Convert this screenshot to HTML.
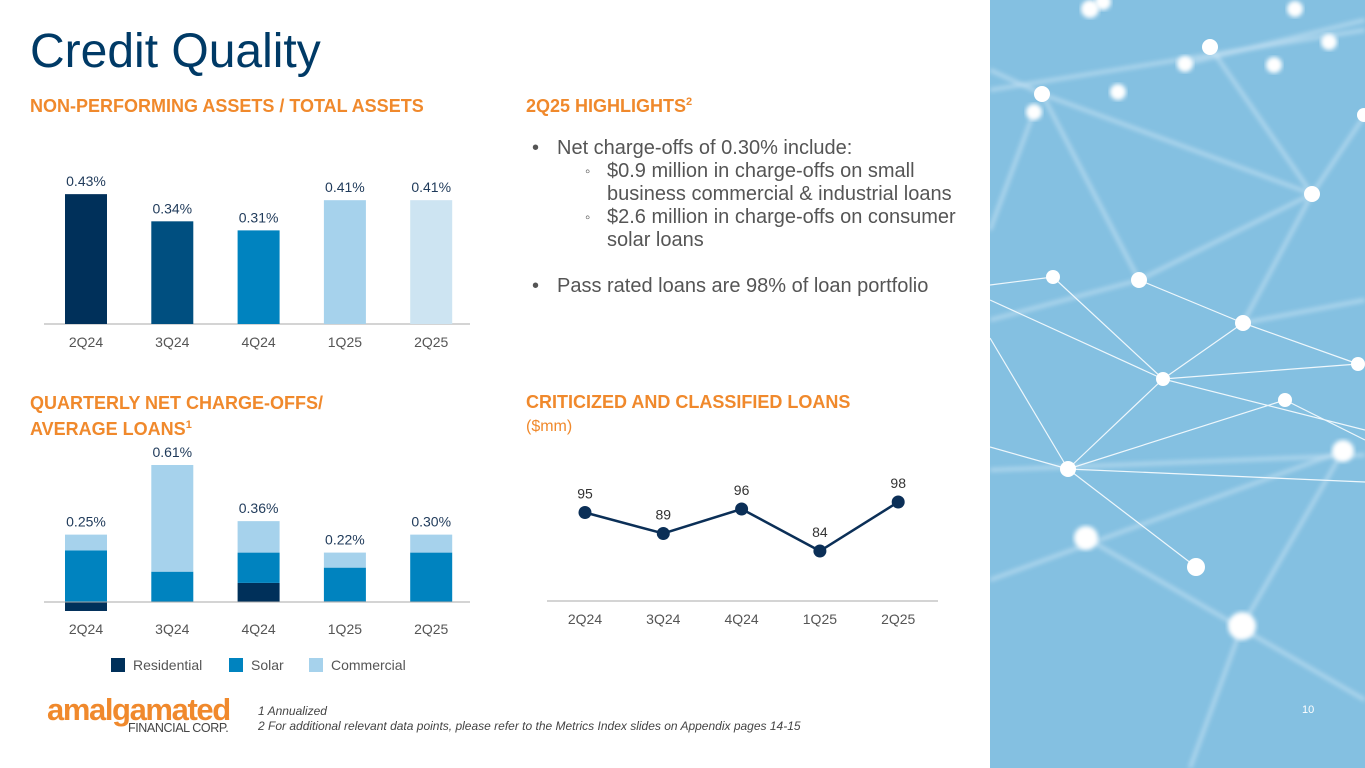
<!DOCTYPE html>
<html><head><meta charset="utf-8"><style>
body{margin:0;width:1365px;height:768px;background:#fff;font-family:"Liberation Sans",Arial,sans-serif;position:relative;overflow:hidden}
.t{position:absolute;white-space:nowrap}
.h{color:#f0892c;font-weight:bold;font-size:18px}
.l{position:absolute;white-space:nowrap;font-size:20px;color:#555;line-height:23px}
</style></head><body>
<div class="t" style="left:30px;top:24px;font-size:48px;color:#003a66">Credit Quality</div>
<div class="t h" style="left:30px;top:96px">NON-PERFORMING ASSETS / TOTAL ASSETS</div>
<div class="t h" style="left:526px;top:96px">2Q25 HIGHLIGHTS<sup style="font-size:11px">2</sup></div>
<div>
<div class="l" style="left:532px;top:137px">•</div><div class="l" style="left:557px;top:137px">Net charge-offs of 0.30% include:</div>
<div class="l" style="left:585px;top:160px;font-size:15px">◦</div><div class="l" style="left:607px;top:160px">$0.9 million in charge-offs on small</div>
<div class="l" style="left:607px;top:183px">business commercial &amp; industrial loans</div>
<div class="l" style="left:585px;top:206px;font-size:15px">◦</div><div class="l" style="left:607px;top:206px">$2.6 million in charge-offs on consumer</div>
<div class="l" style="left:607px;top:229px">solar loans</div>
<div class="l" style="left:532px;top:275px">•</div><div class="l" style="left:557px;top:275px">Pass rated loans are 98% of loan portfolio</div>
</div>
<div class="t h" style="left:30px;top:392px;line-height:22px">QUARTERLY NET CHARGE-OFFS/<br>AVERAGE LOANS<sup style="font-size:11px">1</sup></div>
<div class="t h" style="left:526px;top:392px">CRITICIZED AND CLASSIFIED LOANS</div>
<div class="t" style="left:526px;top:418px;font-size:16px;color:#f0892c">($mm)</div>
<svg id="c" width="990" height="768" style="position:absolute;left:0;top:0" font-family="Liberation Sans, Arial, sans-serif"></svg>
<svg width="375" height="768" style="position:absolute;left:990px;top:0">
<defs><filter id="b"><feGaussianBlur stdDeviation="2"/></filter></defs>
<rect width="375" height="768" fill="#84c0e1"/>
<g stroke="#cfe7f5" stroke-opacity="0.55" stroke-width="4" filter="url(#b)">
<line x1="0" y1="70" x2="52" y2="94"/><line x1="52" y1="94" x2="322" y2="194"/><line x1="322" y1="194" x2="375" y2="115"/><line x1="52" y1="94" x2="149" y2="280"/><line x1="149" y1="280" x2="322" y2="194"/><line x1="322" y1="194" x2="253" y2="323"/><line x1="220" y1="47" x2="322" y2="194"/><line x1="44" y1="112" x2="0" y2="230"/><line x1="253" y1="323" x2="375" y2="300"/><line x1="0" y1="320" x2="149" y2="280"/><line x1="252" y1="626" x2="353" y2="451"/><line x1="252" y1="626" x2="200" y2="768"/><line x1="0" y1="580" x2="353" y2="451"/><line x1="0" y1="470" x2="375" y2="455"/><line x1="96" y1="538" x2="375" y2="700"/><line x1="0" y1="90" x2="375" y2="30"/><line x1="195" y1="64" x2="375" y2="20"/></g>
<g stroke="#eef7fc" stroke-width="1.2">
<line x1="63" y1="277" x2="173" y2="379"/><line x1="173" y1="379" x2="253" y2="323"/><line x1="173" y1="379" x2="78" y2="469"/><line x1="78" y1="469" x2="295" y2="400"/><line x1="78" y1="469" x2="375" y2="482"/><line x1="173" y1="379" x2="368" y2="364"/><line x1="253" y1="323" x2="368" y2="364"/><line x1="0" y1="338" x2="78" y2="469"/><line x1="78" y1="469" x2="206" y2="567"/><line x1="295" y1="400" x2="375" y2="440"/><line x1="173" y1="379" x2="375" y2="430"/><line x1="0" y1="285" x2="63" y2="277"/><line x1="0" y1="447" x2="78" y2="469"/><line x1="0" y1="300" x2="173" y2="379"/><line x1="149" y1="280" x2="253" y2="323"/></g>
<g fill="#fff">
<circle cx="100" cy="9" r="9" filter="url(#b)"/><circle cx="113" cy="2" r="8" filter="url(#b)"/><circle cx="305" cy="9" r="8" filter="url(#b)"/><circle cx="339" cy="42" r="8" filter="url(#b)"/><circle cx="220" cy="47" r="8"/><circle cx="195" cy="64" r="8" filter="url(#b)"/><circle cx="284" cy="65" r="8" filter="url(#b)"/><circle cx="52" cy="94" r="8"/><circle cx="44" cy="112" r="8" filter="url(#b)"/><circle cx="128" cy="92" r="8" filter="url(#b)"/><circle cx="374" cy="115" r="7"/>
<circle cx="322" cy="194" r="8"/><circle cx="63" cy="277" r="7"/><circle cx="149" cy="280" r="8"/><circle cx="253" cy="323" r="8"/><circle cx="368" cy="364" r="7"/><circle cx="173" cy="379" r="7"/><circle cx="295" cy="400" r="7"/><circle cx="353" cy="451" r="11" filter="url(#b)"/><circle cx="78" cy="469" r="8"/><circle cx="96" cy="538" r="12" filter="url(#b)"/><circle cx="206" cy="567" r="9"/><circle cx="252" cy="626" r="14" filter="url(#b)"/>
</g>
<text x="312" y="713" fill="#fff" font-size="11" font-family="Liberation Sans, Arial, sans-serif">10</text>
</svg>
<div class="t" style="left:47px;top:692px;color:#f0892c;font-size:31px;font-weight:bold;letter-spacing:-1.4px">amalgamated</div>
<div class="t" style="left:128px;top:721px;color:#444;font-size:12.5px;letter-spacing:-0.4px">FINANCIAL CORP.</div>
<div class="t" style="left:258px;top:704px;font-size:12px;font-style:italic;color:#444;line-height:15px">1 Annualized<br>2 For additional relevant data points, please refer to the Metrics Index slides on Appendix pages 14-15</div>
<script>
const quarters=["2Q24","3Q24","4Q24","1Q25","2Q25"];
const npaValues=[0.43,0.34,0.31,0.41,0.41];
const npaLabels=["0.43%","0.34%","0.31%","0.41%","0.41%"];
const residential=[-0.04,0,0.085,0.003,0];
const solar=[0.23,0.135,0.135,0.15,0.22];
const commercial=[0.07,0.475,0.14,0.067,0.08];
const ncoLabels=["0.25%","0.61%","0.36%","0.22%","0.30%"];
const criticized=[95,89,96,84,98];
const NS="http://www.w3.org/2000/svg";
const svg=document.getElementById('c');
function el(t,a,txt){const e=document.createElementNS(NS,t);for(const k in a)e.setAttribute(k,a[k]);if(txt!=null)e.textContent=txt;svg.appendChild(e);return e;}
const xs=i=>86+i*86.3;
const FS=14;
// NPA chart
const npaColors=["#00305a","#004f80","#0083bf","#a6d2ec","#cde4f2"];
const yN=v=>324-v*302;
el('line',{x1:44,y1:324,x2:470,y2:324,stroke:"#aaa"});
npaValues.forEach((v,i)=>{
 const r=el('rect',{x:xs(i)-21,y:yN(v),width:42,height:324-yN(v),fill:npaColors[i]});
 
 
 el('text',{x:xs(i),y:yN(v)-8,"text-anchor":"middle","font-size":FS,fill:"#1f3a5a"},npaLabels[i]);
 el('text',{x:xs(i),y:347,"text-anchor":"middle","font-size":FS,fill:"#555"},quarters[i]);
});
// NCO stacked
const yS=v=>602-v*224.6;
const segColors={res:"#00305a",sol:"#0083bf",com:"#a6d2ec"};
quarters.forEach((q,i)=>{
 let pos=0;
 const r0=residential[i];
 if(r0<0){
  const r=el('rect',{x:xs(i)-21,y:602,width:42,height:yS(r0)-602,fill:segColors.res});
  
  
 } else if(r0>0){
  const r=el('rect',{x:xs(i)-21,y:yS(r0),width:42,height:602-yS(r0),fill:segColors.res});
  
  
  pos=r0;
 }
 const s=el('rect',{x:xs(i)-21,y:yS(pos+solar[i]),width:42,height:yS(pos)-yS(pos+solar[i]),fill:segColors.sol});
 
 
 pos+=solar[i];
 const c=el('rect',{x:xs(i)-21,y:yS(pos+commercial[i]),width:42,height:yS(pos)-yS(pos+commercial[i]),fill:segColors.com});
 
 
 pos+=commercial[i];
 el('text',{x:xs(i),y:yS(pos)-8,"text-anchor":"middle","font-size":FS,fill:"#1f3a5a"},ncoLabels[i]);
 el('text',{x:xs(i),y:634,"text-anchor":"middle","font-size":FS,fill:"#555"},q);
});
el('line',{x1:44,y1:602,x2:470,y2:602,stroke:"#aaa"});
// legend
const legend=[["Residential",segColors.res,111],["Solar",segColors.sol,229],["Commercial",segColors.com,309]];
legend.forEach(([n,col,x])=>{
 const g=el('rect',{x:x,y:658,width:14,height:14,fill:col});
 
 
 el('text',{x:x+22,y:670,"font-size":FS,fill:"#555"},n);
});
// line chart
const xl=i=>585+i*78.3;
const yL=v=>551-(v-84)*3.5;
el('line',{x1:547,y1:601,x2:938,y2:601,stroke:"#aaa"});
const pts=criticized.map((v,i)=>xl(i)+","+yL(v)).join(" ");
const pl=el('polyline',{points:pts,fill:"none",stroke:"#0b2f57","stroke-width":2.5});


criticized.forEach((v,i)=>{
 const c=el('circle',{cx:xl(i),cy:yL(v),r:6.5,fill:"#0b2f57"});
 
 
 el('text',{x:xl(i),y:yL(v)-14,"text-anchor":"middle","font-size":FS,fill:"#333"},String(v));
 el('text',{x:xl(i),y:624,"text-anchor":"middle","font-size":FS,fill:"#555"},quarters[i]);
});
</script>
</body></html>
